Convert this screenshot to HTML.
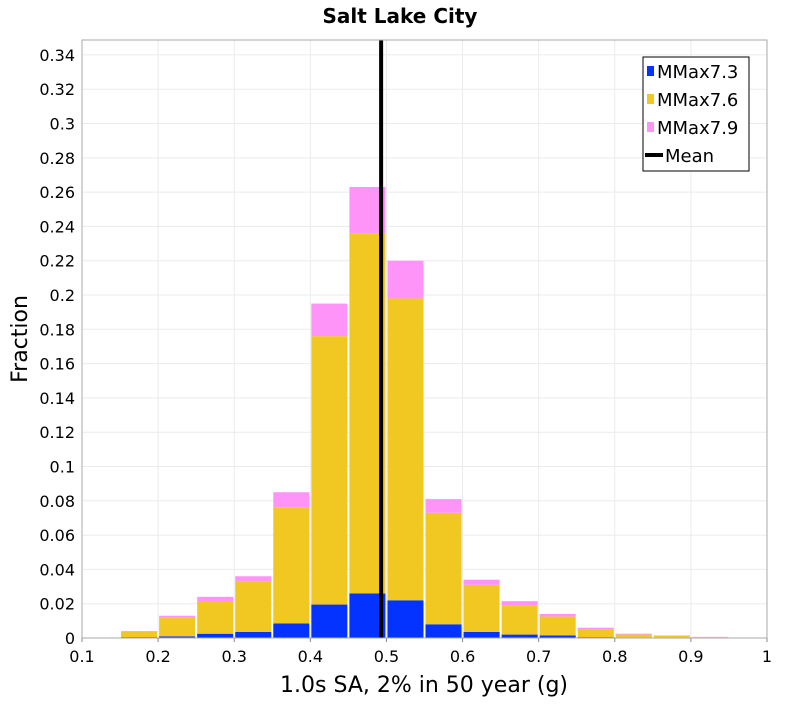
<!DOCTYPE html>
<html><head><meta charset="utf-8"><style>
body{margin:0;background:#fff;font-family:"DejaVu Sans","Liberation Sans",sans-serif}
</style></head><body>
<svg id="c" width="800" height="700" xmlns="http://www.w3.org/2000/svg"></svg>
<script>
const binStarts=[0.10,0.15,0.20,0.25,0.30,0.35,0.40,0.45,0.50,0.55,0.60,0.65,0.70,0.75,0.80,0.85,0.90,0.95];
const blue=[0.0001,0.0005,0.001,0.0025,0.0035,0.0085,0.0195,0.026,0.022,0.008,0.0035,0.002,0.0015,0.0005,0.0002,0.0001,0.00005,0.00002];
const yellow=[0.0001,0.003,0.011,0.0185,0.0295,0.0675,0.1565,0.210,0.176,0.065,0.0275,0.017,0.011,0.0045,0.0018,0.0011,0.0004,0.0002];
const pink=[0.0001,0.0005,0.001,0.003,0.003,0.009,0.019,0.027,0.022,0.008,0.003,0.0025,0.0015,0.001,0.0005,0.0003,0.0002,0.0001];
const meanVal=0.493;
const xTicks=[0.1,0.2,0.3,0.4,0.5,0.6,0.7,0.8,0.9,1];
const yTicks=[0,0.02,0.04,0.06,0.08,0.1,0.12,0.14,0.16,0.18,0.2,0.22,0.24,0.26,0.28,0.3,0.32,0.34];
const L=82,R=767,T=40,B=638,ymax=0.3487;
const X=v=>L+(v-0.1)/0.9*(R-L);
const Y=v=>B-v/ymax*(B-T);
const svg=document.getElementById('c');
function el(t,a,p){const e=document.createElementNS('http://www.w3.org/2000/svg',t);for(const k in a)e.setAttribute(k,a[k]);(p||svg).appendChild(e);return e;}
const grid=el('g',{});


xTicks.forEach(v=>el('line',{x1:X(v),x2:X(v),y1:T,y2:B,stroke:'#ebebeb'},grid));
yTicks.forEach(v=>el('line',{x1:L,x2:R,y1:Y(v),y2:Y(v),stroke:'#ebebeb'},grid));
const bars=el('g',{});


const cols=['#0433ff','#f1c822','#ff94f8'];
binStarts.forEach((s,i)=>{
  const x0=X(s)+1,x1=X(s+0.05)-1;
  let base=0;
  [blue[i],yellow[i],pink[i]].forEach((v,j)=>{
    const r=el('rect',{x:x0,width:x1-x0,y:Y(base+v),height:Y(base)-Y(base+v),fill:cols[j]},bars);
    
    
    base+=v;
  });
});
const m=el('line',{x1:X(meanVal),x2:X(meanVal),y1:T,y2:B,stroke:'#000','stroke-width':4});


el('rect',{x:L,y:T,width:R-L,height:B-T,fill:'none',stroke:'#aaa'});
xTicks.forEach(v=>{
  const t=el('text',{x:X(v),y:662,'text-anchor':'middle','font-size':16});t.textContent=String(v);
  
  
  el('line',{x1:X(v),x2:X(v),y1:B,y2:B+4,stroke:'#888'});
});
yTicks.forEach(v=>{
  const t=el('text',{x:75,y:Y(v)+6,'text-anchor':'end','font-size':16});t.textContent=String(v);
  
  
});
let t=el('text',{x:400,y:23,'text-anchor':'middle','font-size':20,'font-weight':'bold'});t.textContent='Salt Lake City';


t=el('text',{x:424,y:692,'text-anchor':'middle','font-size':22});t.textContent='1.0s SA, 2% in 50 year (g)';


t=el('text',{x:0,y:0,'text-anchor':'middle','font-size':22,transform:'translate(27,339) rotate(-90)'});t.textContent='Fraction';


const lg=el('g',{});


el('rect',{x:643,y:57,width:106,height:114,fill:'#fff',stroke:'#000'},lg);
['MMax7.3','MMax7.6','MMax7.9','Mean'].forEach((n,i)=>{
  const y=71+i*28;
  if(i<3) el('rect',{x:647,y:y-5,width:7,height:10,fill:cols[i]},lg);
  else el('line',{x1:645,x2:663,y1:y,y2:y,stroke:'#000','stroke-width':4},lg);
  const tt=el('text',{x:i<3?657:665,y:y+7,'font-size':18},lg);tt.textContent=n;
  
  
});
</script>
</body></html>
